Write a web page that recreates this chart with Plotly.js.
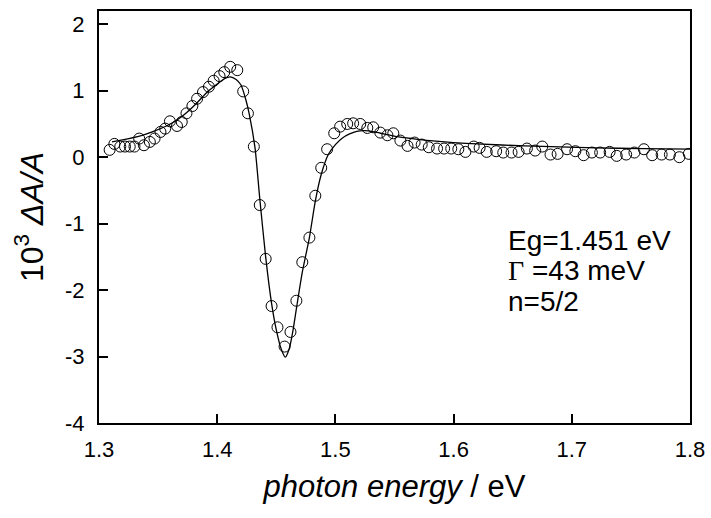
<!DOCTYPE html>
<html>
<head>
<meta charset="utf-8">
<script src="https://cdn.plot.ly/plotly-3.0.1.min.js"></script>
<style>html,body{margin:0;padding:0;background:#fff;}#chart{width:711px;height:518px;}</style>
</head>
<body>
<div id="chart"></div>
<script>
// measured data (photon energy in eV, 10^3 dA/A)
const dataX = [1.309,1.313,1.318,1.322,1.326,1.330,1.334,1.338,1.343,1.347,1.352,1.356,1.360,1.366,1.370,1.374,1.379,1.383,1.388,1.393,1.397,1.402,1.406,1.411,1.417,1.422,1.426,1.431,1.436,1.441,1.446,1.451,1.457,1.462,1.467,1.472,1.478,1.483,1.488,1.493,1.499,1.504,1.510,1.515,1.521,1.527,1.532,1.538,1.544,1.549,1.555,1.561,1.567,1.573,1.579,1.586,1.592,1.598,1.604,1.610,1.617,1.622,1.628,1.636,1.642,1.649,1.655,1.662,1.669,1.675,1.682,1.688,1.696,1.703,1.710,1.717,1.724,1.732,1.738,1.746,1.753,1.761,1.768,1.776,1.783,1.791,1.799];
const dataY = [0.11,0.20,0.16,0.16,0.16,0.16,0.28,0.18,0.23,0.28,0.38,0.43,0.54,0.47,0.53,0.66,0.77,0.88,0.98,1.06,1.15,1.22,1.28,1.36,1.31,0.99,0.66,0.16,-0.72,-1.53,-2.24,-2.56,-2.85,-2.63,-2.16,-1.58,-1.21,-0.58,-0.16,0.12,0.36,0.46,0.50,0.51,0.50,0.44,0.45,0.37,0.33,0.36,0.25,0.17,0.22,0.19,0.15,0.13,0.13,0.13,0.12,0.08,0.16,0.14,0.08,0.09,0.07,0.07,0.08,0.13,0.10,0.16,0.04,0.05,0.12,0.09,0.03,0.07,0.07,0.08,0.02,0.04,0.07,0.12,0.03,0.04,0.04,0.00,0.05];
// fitted curve
const fitX = [1.311,1.320,1.335,1.345,1.357,1.366,1.374,1.383,1.391,1.400,1.406,1.411,1.416,1.420,1.424,1.427,1.432,1.436,1.441,1.446,1.450,1.454,1.4576,1.461,1.464,1.467,1.472,1.478,1.483,1.488,1.494,1.500,1.506,1.512,1.518,1.525,1.533,1.541,1.552,1.565,1.580,1.600,1.620,1.660,1.720,1.760,1.800];
const fitY = [0.23,0.26,0.32,0.38,0.47,0.56,0.67,0.82,0.97,1.10,1.18,1.21,1.17,1.09,0.88,0.66,0.14,-0.62,-1.50,-2.20,-2.60,-2.88,-3.01,-2.88,-2.62,-2.28,-1.73,-1.21,-0.66,-0.26,0.04,0.19,0.29,0.35,0.39,0.40,0.38,0.35,0.31,0.28,0.25,0.22,0.20,0.17,0.14,0.13,0.12];
const xTicks = [1.3,1.4,1.5,1.6,1.7,1.8];
const yTicks = [-4,-3,-2,-1,0,1,2];

const FONT = 'Liberation Sans, Arial, sans-serif';
const traces = [
  {x: fitX, y: fitY, mode: 'lines', line: {color: '#000', width: 1.3, shape: 'spline', smoothing: 0.6}, hoverinfo: 'skip'},
  {x: dataX, y: dataY, mode: 'markers', marker: {symbol: 'circle-open', size: 11, color: '#000', line: {width: 1, color: '#000'}}}
];
const layout = {
  width: 711, height: 518,
  margin: {l: 99, r: 21, t: 11, b: 95},
  showlegend: false,
  paper_bgcolor: '#fff', plot_bgcolor: '#fff',
  font: {family: FONT, color: '#000'},
  xaxis: {
    range: [1.3, 1.8], tickvals: xTicks, ticktext: xTicks.map(v => v.toFixed(1)),
    ticks: 'inside', ticklen: 9, tickwidth: 2, tickcolor: '#000',
    showline: true, linewidth: 2, linecolor: '#000', mirror: true,
    showgrid: false, zeroline: false,
    tickfont: {size: 22, family: FONT},
    ticklabelstandoff: 6,
    title: {text: '<i>photon energy</i> / eV', font: {size: 31, family: FONT}, standoff: 14}
  },
  yaxis: {
    range: [-4, 2.2], tickvals: yTicks, ticktext: yTicks.map(String),
    ticks: 'inside', ticklen: 9, tickwidth: 2, tickcolor: '#000',
    showline: true, linewidth: 2, linecolor: '#000', mirror: true,
    showgrid: false, zeroline: false,
    tickfont: {size: 22, family: FONT},
    ticklabelstandoff: 8,
    title: {text: '10<sup>3</sup> <i>ΔA/A</i>', font: {size: 32, family: FONT}, standoff: 12}
  },
  annotations: [
    {xref: 'paper', yref: 'paper', x: 0.688, y: 0.444, xanchor: 'left', yanchor: 'middle', showarrow: false, align: 'left',
     text: 'Eg=1.451 eV', font: {size: 28, family: FONT}},
    {xref: 'paper', yref: 'paper', x: 0.688, y: 0.369, xanchor: 'left', yanchor: 'middle', showarrow: false, align: 'left',
     text: '<span style="font-family:Liberation Serif, Times New Roman, serif">Γ</span> =43 meV', font: {size: 28, family: FONT}},
    {xref: 'paper', yref: 'paper', x: 0.688, y: 0.294, xanchor: 'left', yanchor: 'middle', showarrow: false, align: 'left',
     text: 'n=5/2', font: {size: 28, family: FONT}}
  ]
};
Plotly.newPlot('chart', traces, layout, {displayModeBar: false, staticPlot: true});
</script>
</body>
</html>
